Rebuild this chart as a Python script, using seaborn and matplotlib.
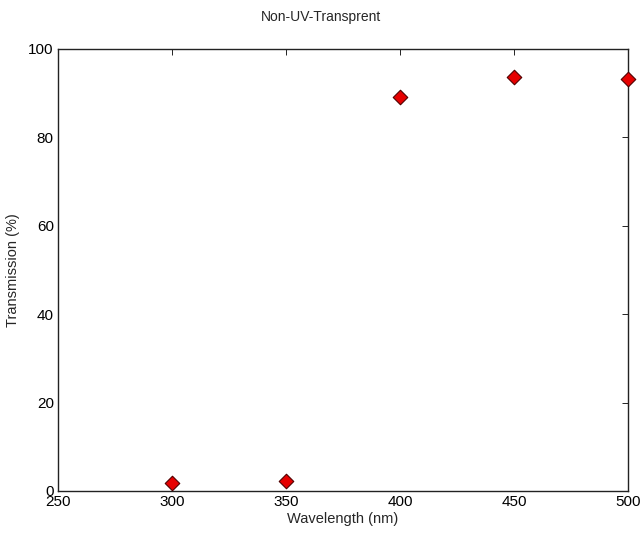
import matplotlib
matplotlib.use("Agg")
import matplotlib.pyplot as plt
import seaborn as sns
import pandas as pd

wavelength = [300, 350, 400, 450, 500]
transmission = [1.8, 2.3, 89.1, 93.7, 93.2]
x_ticks = [250, 300, 350, 400, 450, 500]
y_ticks = [0, 20, 40, 60, 80, 100]

sns.set_style("white")
plt.rcParams['font.family'] = ['Liberation Sans', 'DejaVu Sans']

df = pd.DataFrame({"Wavelength": wavelength, "Transmission": transmission})

fig = plt.figure(figsize=(6.43, 5.36), dpi=100)
ax = fig.add_axes([58/643, 45/536, 570/643, 442/536])
sns.scatterplot(data=df, x="Wavelength", y="Transmission", ax=ax,
                marker="D", s=55, color="#e60000", edgecolor="#500000",
                linewidth=0.8, clip_on=False, zorder=3)
ax.set_xlim(250, 500)
ax.set_ylim(0, 100)
ax.set_xticks(x_ticks)
ax.set_yticks(y_ticks)
ax.tick_params(direction="in", length=4, width=0.6, top=True, right=True,
               labelsize=11, colors="black", pad=3)
for s in ax.spines.values():
    s.set_color("#222222")
    s.set_linewidth(1.0)
    s.set_visible(True)
ax.set_xlabel("Wavelength (nm)", fontsize=10.5, labelpad=2)
ax.set_ylabel("Transmission (%)", fontsize=10.5, labelpad=6)
fig.suptitle("Non-UV-Transprent", fontsize=10, y=1 - 17/536, va="center")
fig.savefig("out.png", dpi=100, facecolor="white")
